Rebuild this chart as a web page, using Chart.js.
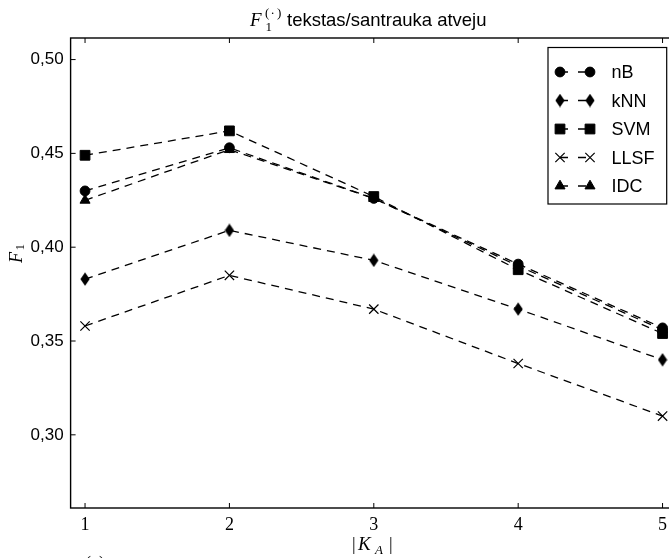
<!DOCTYPE html>
<html><head><meta charset="utf-8">
<script src="https://cdn.jsdelivr.net/npm/chart.js@4/dist/chart.umd.min.js"></script>
<style>
html,body{margin:0;padding:0;overflow:hidden;background:#fff;width:669px;height:558px}
#wrap{position:absolute;left:0;top:0;width:678px;height:558px}
</style>
</head><body><div id="wrap"><canvas id="c" width="678" height="558"></canvas></div>
<script>
// ---- data ----
const categories = [1, 2, 3, 4, 5];
const xTickLabels = ['1', '2', '3', '4', '5'];
const yTicks = [0.30, 0.35, 0.40, 0.45, 0.50];
const yTickLabels = ['0,30', '0,35', '0,40', '0,45', '0,50'];
const seriesNames = ['nB', 'kNN', 'SVM', 'LLSF', 'IDC'];
const nB   = [0.430, 0.453, 0.426, 0.391, 0.357];
const kNN  = [0.383, 0.409, 0.393, 0.367, 0.340];
const SVM  = [0.449, 0.462, 0.427, 0.388, 0.354];
const LLSF = [0.358, 0.385, 0.367, 0.338, 0.310];
const IDC  = [0.425, 0.452, 0.426, 0.390, 0.356];
const seriesValues = [nB, kNN, SVM, LLSF, IDC];

// ---- thin diamond marker ----
function makeDiamond() {
  const c = document.createElement('canvas');
  c.width = 10; c.height = 14;
  const g = c.getContext('2d');
  g.fillStyle = '#000';
  g.beginPath();
  g.moveTo(5, 0.2); g.lineTo(9.6, 7); g.lineTo(5, 13.8); g.lineTo(0.4, 7);
  g.closePath(); g.fill();
  return c;
}
const diamond = makeDiamond();
const markerStyles = [
  {pointStyle: 'circle', pointRadius: 4.9, pointBorderWidth: 1},
  {pointStyle: diamond, pointRadius: 6, pointBorderWidth: 1},
  {pointStyle: 'rect', pointRadius: 6.9, pointBorderWidth: 1},
  {pointStyle: 'crossRot', pointRadius: 6.6, pointBorderWidth: 1.2},
  {pointStyle: 'triangle', pointRadius: 5.8, pointBorderWidth: 1}
];

const datasets = seriesNames.map((name, i) => Object.assign({
  label: name,
  data: categories.map((c, j) => ({x: c, y: seriesValues[i][j]})),
  borderColor: '#000',
  backgroundColor: '#000',
  pointBackgroundColor: '#000',
  pointBorderColor: '#000',
  borderWidth: 1.3,
  borderDash: [8, 6],
  fill: false,
  tension: 0,
  order: seriesNames.length - i
}, markerStyles[i]));

function drawMarker(ctx, ds, x, y) {
  ctx.save();
  ctx.setLineDash([]);
  ctx.fillStyle = '#000';
  ctx.strokeStyle = '#000';
  ctx.lineWidth = ds.pointBorderWidth;
  const opts = {pointStyle: ds.pointStyle, radius: ds.pointRadius, rotation: 0, borderWidth: ds.pointBorderWidth};
  if (Chart.helpers && Chart.helpers.drawPoint) {
    Chart.helpers.drawPoint(ctx, opts, x, y);
  }
  ctx.restore();
}

const decor = {
  id: 'decor',
  afterDatasetsDraw(chart) {
    const {ctx, chartArea: a, scales} = chart;
    const xs = scales.x, ys = scales.y;
    ctx.save();
    ctx.setLineDash([]);
    ctx.strokeStyle = '#000';
    ctx.lineWidth = 1.4;
    ctx.strokeRect(a.left, a.top, a.right - a.left, a.bottom - a.top);
    ctx.lineWidth = 1;
    const L = 5;
    ctx.beginPath();
    xs.ticks.forEach(t => {
      const px = xs.getPixelForValue(t.value);
      ctx.moveTo(px, a.bottom); ctx.lineTo(px, a.bottom - L);
      ctx.moveTo(px, a.top); ctx.lineTo(px, a.top + L);
    });
    ys.ticks.forEach(t => {
      const py = ys.getPixelForValue(t.value);
      ctx.moveTo(a.left, py); ctx.lineTo(a.left + L, py);
      ctx.moveTo(a.right, py); ctx.lineTo(a.right - L, py);
    });
    ctx.stroke();
    ctx.restore();
  },
  afterDraw(chart) {
    const {ctx, chartArea: a} = chart;
    ctx.save();
    ctx.fillStyle = '#000';
    ctx.textAlign = 'left';
    ctx.textBaseline = 'alphabetic';
    // title
    ctx.font = 'italic 19px "Liberation Serif"';
    ctx.fillText('F', 250, 26);
    ctx.font = '13px "Liberation Serif"';
    ctx.fillText('(', 265, 16.5);
    ctx.fillText('·', 270.5, 16.5);
    ctx.fillText(')', 277, 16.5);
    ctx.fillText('1', 265.5, 31);
    ctx.font = '18.5px "Liberation Sans"';
    ctx.fillText('tekstas/santrauka atveju', 287, 26);

    // y axis label
    ctx.save();
    ctx.translate(21.5, 263);
    ctx.rotate(-Math.PI / 2);
    ctx.font = 'italic 18px "Liberation Serif"';
    ctx.fillText('F', 0, 0);
    ctx.font = '13px "Liberation Serif"';
    ctx.fillText('1', 12.5, 2.5);
    ctx.restore();

    // x axis label
    ctx.font = '18px "Liberation Serif"';
    ctx.fillText('|', 352, 550);
    ctx.font = 'italic 19px "Liberation Serif"';
    ctx.fillText('K', 358, 550);
    ctx.font = 'italic 13px "Liberation Serif"';
    ctx.fillText('A', 375, 553.5);
    ctx.font = '18px "Liberation Serif"';
    ctx.fillText('|', 389, 550);

    // sub caption (cut at bottom)
    ctx.font = '18px "Liberation Serif"';
    ctx.fillText('(a)', 85, 569);

    // legend
    const bx = 548, by = a.top + 9.5, bw = a.right - 10.3 - bx, bh = 156.5;
    ctx.fillStyle = '#fff';
    ctx.fillRect(bx, by, bw, bh);
    ctx.strokeStyle = '#000';
    ctx.lineWidth = 1.2;
    ctx.setLineDash([]);
    ctx.strokeRect(bx, by, bw, bh);
    const rows = [72, 100.5, 129, 157.5, 186];
    datasets.forEach((ds, i) => {
      const yy = rows[i];
      ctx.save();
      ctx.strokeStyle = '#000';
      ctx.lineWidth = ds.borderWidth;
      ctx.setLineDash([8, 10]);
      ctx.beginPath();
      ctx.moveTo(560, yy); ctx.lineTo(590, yy);
      ctx.stroke();
      ctx.restore();
      drawMarker(ctx, ds, 560, yy);
      drawMarker(ctx, ds, 590, yy);
      ctx.fillStyle = '#000';
      ctx.font = '18px "Liberation Sans"';
      ctx.fillText(ds.label, 611.5, yy + 6.2);
    });
    ctx.restore();
  }
};

new Chart(document.getElementById('c'), {
  type: 'line',
  data: {datasets},
  options: {
    responsive: false,
    animation: false,
    events: [],
    layout: {padding: {top: 38, right: 1, left: 0, bottom: 0}, autoPadding: false},
    plugins: {legend: {display: false}, tooltip: {enabled: false}, title: {display: false}},
    scales: {
      x: {
        type: 'linear', min: 0.9, max: 5.1,
        afterBuildTicks: s => { s.ticks = categories.map(v => ({value: v})); },
        afterFit: s => { s.height = 50; },
        grid: {display: false, drawTicks: false},
        border: {display: false},
        ticks: {
          autoSkip: false, maxRotation: 0, padding: 6, color: '#000',
          font: {family: 'Liberation Serif', size: 18},
          callback: (v, i) => xTickLabels[i]
        }
      },
      y: {
        type: 'linear', min: 0.261, max: 0.5115,
        afterBuildTicks: s => { s.ticks = yTicks.map(v => ({value: v})); },
        afterFit: s => { s.width = 70.6; },
        grid: {display: false, drawTicks: false},
        border: {display: false},
        ticks: {
          padding: 7, color: '#000',
          font: {family: 'Liberation Sans', size: 17},
          callback: (v, i) => yTickLabels[i]
        }
      }
    }
  },
  plugins: [decor]
});
</script>
</body></html>
